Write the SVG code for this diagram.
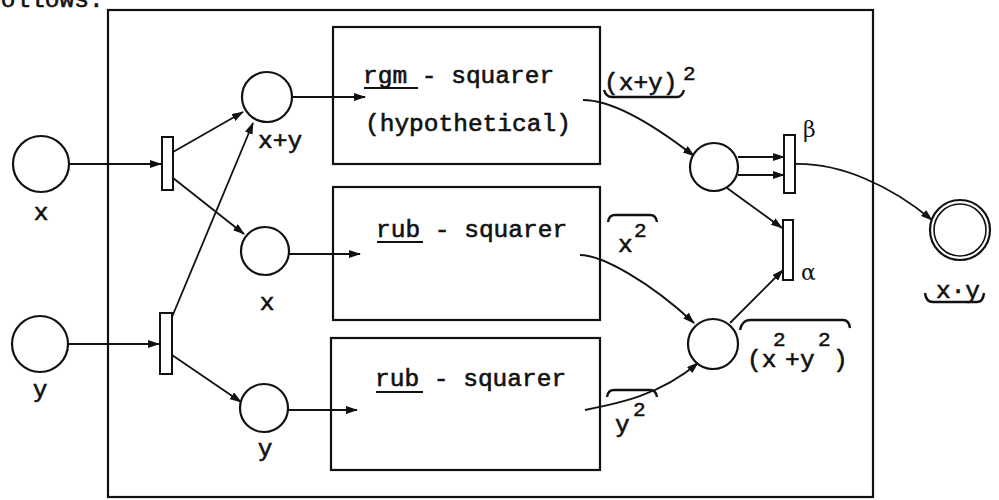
<svg xmlns="http://www.w3.org/2000/svg" width="999" height="500" viewBox="0 0 999 500">
<defs>
<marker id="ah" markerUnits="userSpaceOnUse" markerWidth="12" markerHeight="8" refX="11" refY="4" orient="auto">
<path d="M0,0 L12,4 L0,8 Z" fill="#111"/>
</marker>
<style>
.t{font-family:"Liberation Mono","DejaVu Sans Mono",monospace;font-size:24.5px;fill:#111;stroke:#111;stroke-width:0.6}
.s{font-family:"Liberation Mono","DejaVu Sans Mono",monospace;font-size:21px;fill:#111;stroke:#111;stroke-width:0.5}
.g{font-family:"DejaVu Serif","Liberation Serif",serif;font-size:22px;fill:#111}
.pl{fill:#fff;stroke:#111;stroke-width:2.2}
.tr{fill:#fff;stroke:#111;stroke-width:2}
.bx{fill:none;stroke:#111;stroke-width:2.2}
.a{fill:none;stroke:#111;stroke-width:1.8;marker-end:url(#ah)}
.ln{fill:none;stroke:#111;stroke-width:2.2}
.br{fill:none;stroke:#111;stroke-width:2.4}
</style>
</defs>
<rect width="999" height="500" fill="#fff"/>
<text class="t" x="-14" y="7">follows.</text>
<g id="outer"><rect class="bx" x="108" y="10" width="765" height="487" stroke-width="2.5"/></g>

<g id="connectors">
<path class="a" d="M70,164 L161,164"/>
<path class="a" d="M68,344 L159,344"/>
<path class="a" d="M173,152 L243,112"/>
<path class="a" d="M173,178 L244,234"/>
<path class="a" d="M172,317 L253,123"/>
<path class="a" d="M172,355 L241,402"/>
<path class="a" d="M292,97 L365,97"/>
<path class="a" d="M289,254 L360,254"/>
<path class="a" d="M288,410 L357,410"/>
<path class="a" d="M583,100 C607,100 645,118 694,156"/>
<path class="a" d="M580,255 C602,255 650,282 694,323"/>
<path class="a" d="M585,410 C620,403 660,395 698,363"/>
<path class="a" d="M738,157 L784,157"/>
<path class="a" d="M738,175 L784,175"/>
<path class="a" d="M727,188 L782,228"/>
<path class="a" d="M730,323 L783,270"/>
<path class="a" d="M795,164 C840,163 890,185 932,220"/>
</g>

<g id="p_x"><circle class="pl" cx="41" cy="164" r="28"/><text class="t" x="41" y="220" text-anchor="middle">x</text></g>
<g id="p_y"><circle class="pl" cx="40" cy="344" r="28"/><text class="t" x="40" y="397" text-anchor="middle">y</text></g>
<g id="t_x"><rect class="tr" x="162" y="137" width="11" height="53"/></g>
<g id="t_y"><rect class="tr" x="160" y="313" width="12" height="61"/></g>
<g id="p_xy"><circle class="pl" cx="267" cy="97" r="25"/><text class="t" x="258" y="148">x+y</text></g>
<g id="p_x2"><circle class="pl" cx="265" cy="251" r="24"/><text class="t" x="267" y="310" text-anchor="middle">x</text></g>
<g id="p_y2"><circle class="pl" cx="264" cy="408" r="24"/><text class="t" x="265" y="456" text-anchor="middle">y</text></g>

<g id="box_rgm"><rect class="bx" x="333" y="27" width="267" height="137"/>
<text class="t" x="363" y="83">rgm - squarer</text><line class="ln" x1="364" y1="88" x2="418" y2="88"/>
<text class="t" x="365" y="131">(hypothetical)</text></g>
<g id="box_rub1"><rect class="bx" x="333" y="187" width="267" height="133"/>
<text class="t" x="376" y="237">rub - squarer</text><line class="ln" x1="377" y1="242" x2="423" y2="242"/></g>
<g id="box_rub2"><rect class="bx" x="331" y="338" width="269" height="132"/>
<text class="t" x="375" y="386">rub - squarer</text><line class="ln" x1="376" y1="392" x2="423" y2="392"/></g>

<g id="lbl_xy2"><text class="t" x="604" y="90">(x+y)</text><text class="s" x="683" y="80">2</text>
<path class="br" d="M604,90 Q606,97 612,97 L677,97 Q682,97 684,90"/></g>
<g id="lbl_x2"><text class="t" x="618" y="252">x</text><text class="s" x="634" y="237">2</text>
<path class="br" d="M608,222 Q609,215 615,215 L650,215 Q656,215 657,222"/></g>
<g id="lbl_y2"><text class="t" x="615" y="432">y</text><text class="s" x="633" y="416">2</text>
<path class="br" d="M607,397 Q608,390 614,390 L650,390 Q656,390 657,397"/></g>

<g id="p_sq"><circle class="pl" cx="714" cy="167" r="24"/></g>
<g id="p_sum"><circle class="pl" cx="713" cy="344" r="25"/>
<text class="t" x="747" y="367">(x</text><text class="s" x="773" y="346">2</text><text class="t" x="785" y="367">+</text><text class="t" x="800" y="367">y</text><text class="s" x="818" y="346">2</text><text class="t" x="833" y="367">)</text>
<path class="br" d="M740,330 Q742,320 750,320 L843,320 Q849,320 850,328"/></g>
<g id="t_beta"><rect class="tr" x="784" y="135" width="11" height="58"/><text class="g" x="803" y="137">β</text></g>
<g id="t_alpha"><rect class="tr" x="783" y="220" width="10" height="60"/><text class="g" x="801" y="280">α</text></g>
<g id="p_out"><circle class="pl" cx="960" cy="230" r="30"/><circle cx="960" cy="230" r="26" fill="none" stroke="#111" stroke-width="1.6"/>
<text class="t" x="958" y="298" text-anchor="middle">x·y</text>
<path class="br" d="M925,293 Q926,302 933,302 L977,302 Q983,302 984,293"/></g>
</svg>
